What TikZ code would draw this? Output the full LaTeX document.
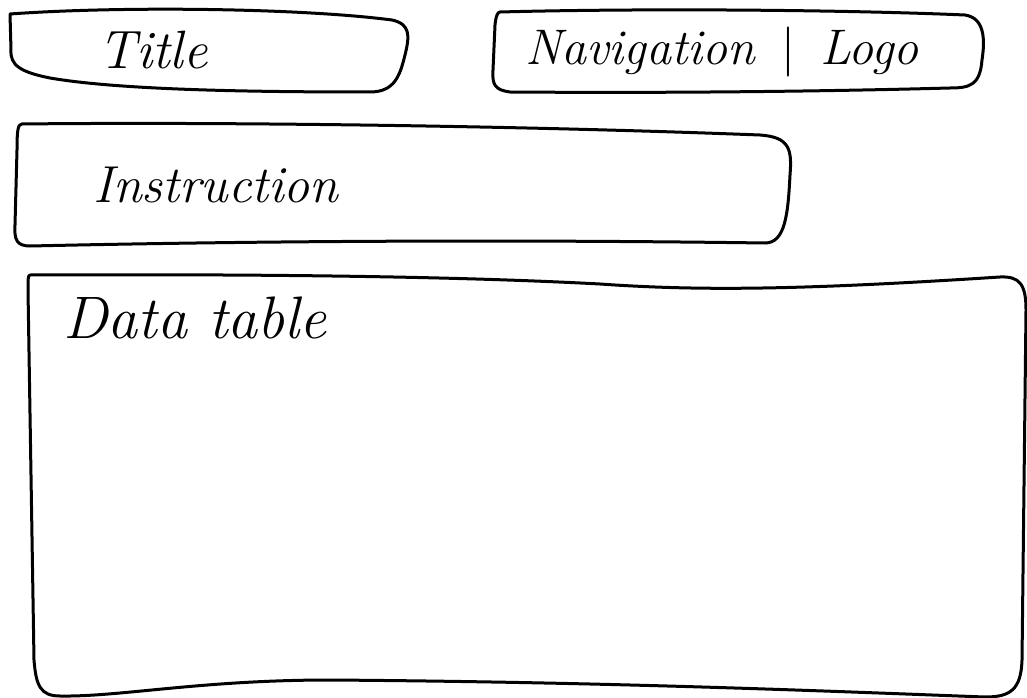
\documentclass[tikz,border=0pt]{standalone}
\begin{document}
\begin{tikzpicture}[x=1pt,y=-1pt,
  sketch/.style={draw=black,line width=3pt,line join=round,line cap=round},
  label/.style={inner sep=0pt,font=\itshape}]
\useasboundingbox[fill=white] (0,0) rectangle (1027,698);
% Title box
\draw[sketch] (10,14) .. controls (120,6) and (300,8) .. (392,20)
  .. controls (410,24) and (410,35) .. (405,55)
  .. controls (400,75) and (395,92) .. (370,92)
  .. controls (250,92) and (120,90) .. (50,78)
  .. controls (20,72) and (10,65) .. (11,50) -- cycle;
\node[label,font=\fontsize{54}{60}\selectfont\itshape] (title) at (153,50) {Title};
% Navigation box
\draw[sketch] (500,12) .. controls (650,8) and (850,10) .. (965,15)
  .. controls (985,18) and (985,40) .. (982,60)
  .. controls (980,85) and (970,88) .. (950,88)
  .. controls (800,92) and (650,93) .. (510,92)
  .. controls (495,90) and (492,85) .. (493,70)
  -- (495,25) .. controls (496,15) and (498,12) .. (500,12) -- cycle;
\node[label,font=\fontsize{50}{56}\selectfont\itshape] (nav) at (722,52) {Navigation \,{\upshape|}\, Logo};
% Instruction box
\draw[sketch] (22,124) .. controls (200,122) and (500,125) .. (760,135)
  .. controls (790,137) and (792,150) .. (790,175)
  .. controls (788,215) and (785,243) .. (765,243)
  .. controls (550,240) and (300,240) .. (30,246)
  .. controls (17,246) and (14,240) .. (15,225)
  -- (17,150) .. controls (17,130) and (18,124) .. (22,124) -- cycle;
\node[label,font=\fontsize{52}{56}\selectfont\itshape] (instr) at (216,185) {Instruction};
% Data table box
\draw[sketch] (30,275) .. controls (250,274) and (450,276) .. (600,284)
  .. controls (700,291) and (800,290) .. (1000,277)
  .. controls (1020,276) and (1026,285) .. (1026,310)
  -- (1022,660) .. controls (1021,690) and (1010,697) .. (985,697)
  .. controls (800,690) and (600,682) .. (330,680)
  .. controls (200,680) and (120,697) .. (60,696)
  .. controls (40,696) and (36,685) .. (34,660)
  -- (28,290) .. controls (28,280) and (28,275) .. (30,275) -- cycle;
\node[label,font=\fontsize{60}{64}\selectfont\itshape] (data) at (195,318) {Data table};
\end{tikzpicture}
\end{document}
